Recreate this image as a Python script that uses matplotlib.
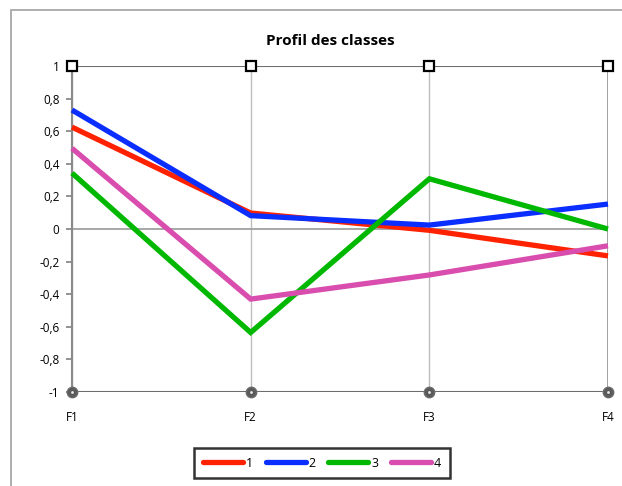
import matplotlib
matplotlib.use("Agg")
import matplotlib.pyplot as plt
from matplotlib.lines import Line2D
from matplotlib.patches import Rectangle

# Data
factors = ["F1", "F2", "F3", "F4"]
classe_1 = [0.625, 0.098, -0.008, -0.165]
classe_2 = [0.730, 0.082, 0.024, 0.153]
classe_3 = [0.343, -0.635, 0.308, 0.000]
classe_4 = [0.495, -0.430, -0.282, -0.103]
series_names = ["1", "2", "3", "4"]
y_ticks = [-1, -0.8, -0.6, -0.4, -0.2, 0, 0.2, 0.4, 0.6, 0.8, 1]
y_tick_labels = ["-1", "-0,8", "-0,6", "-0,4", "-0,2", "0", "0,2", "0,4", "0,6", "0,8", "1"]

colors = ["#FF2200", "#0A2EFF", "#00B800", "#D84DAE"]

plt.rcParams["font.family"] = ["Open Sans", "DejaVu Sans"]

W, H = 622, 486
fig = plt.figure(figsize=(W / 100, H / 100), dpi=100)

# Outer chart frame
fig.add_artist(Rectangle((11 / W, -0.1), 1.2, (H - 10) / H + 0.1, transform=fig.transFigure,
                         fill=False, edgecolor="#a8a8a8", lw=1.3))

ax = fig.add_axes([72 / W, 94 / H, (608 - 72) / W, (392 - 66) / H])
x = list(range(len(factors)))

# Grid
for xi in x:
    ax.axvline(xi, color="#bdbdbd", lw=1.0, zorder=1)
ax.axhline(0, color="#a0a0a0", lw=1.3, zorder=1)
ax.axhline(1, color="#6e6e6e", lw=1.5, zorder=1)
ax.axhline(-1, color="#6e6e6e", lw=1.5, zorder=1)
ax.axvline(x[-1], color="#9a9a9a", lw=1.3, zorder=1)

for vals, c, name in zip([classe_1, classe_2, classe_3, classe_4], colors, series_names):
    ax.plot(x, vals, color=c, lw=3.8, solid_capstyle="butt", solid_joinstyle="miter",
            label=name, zorder=3, clip_on=False)

# Handles on top and bottom edges
ax.plot(x, [1] * len(x), ls="none", marker="s", ms=7, mfc="white", mec="black", mew=1.6,
        zorder=5, clip_on=False)
ax.plot(x, [-1] * len(x), ls="none", marker="o", ms=7.5, mfc="#5a5a5a", mec="#6a6a6a",
        zorder=5, clip_on=False)
ax.plot(x, [-1] * len(x), ls="none", marker="o", ms=2.0, mfc="#e8e8e8", mec="none",
        zorder=6, clip_on=False)

ax.set_xlim(0, 3)
ax.set_ylim(-1, 1)
ax.set_xticks(x)
ax.set_xticklabels(factors, fontsize=8.5)
ax.set_yticks(y_ticks)
ax.set_yticklabels(y_tick_labels, fontsize=8.5)
ax.tick_params(axis="x", length=0, pad=14)
ax.tick_params(axis="y", length=4, width=1.3, color="#8a8a8a", pad=5, direction="out")
for s in ["top", "right", "bottom"]:
    ax.spines[s].set_visible(False)
ax.spines["left"].set_color("#8a8a8a")
ax.spines["left"].set_linewidth(1.5)

fig.text(330 / W, 1 - 41 / H, "Profil des classes", ha="center", va="center",
         fontsize=11, fontweight="bold")

handles = [Line2D([0], [0], color=c, lw=3.8, solid_capstyle="round") for c in colors]
leg = fig.legend(handles, series_names, loc="center", bbox_to_anchor=(322 / W, 1 - 463 / H),
                 ncol=4, frameon=True, fancybox=False, fontsize=9, handlelength=3.2,
                 handletextpad=0.25, columnspacing=1.0, borderpad=0.7)
leg.get_frame().set_edgecolor("black")
leg.get_frame().set_linewidth(1.8)

fig.savefig("out.png", dpi=100)
